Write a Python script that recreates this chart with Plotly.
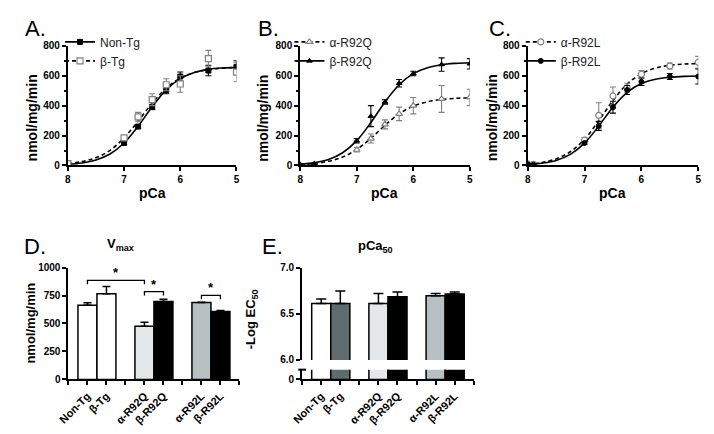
import plotly.graph_objects as go

W, H = 714, 434

# ---------------- data ----------------
# Panel A
pCa_A = [8, 7, 6.75, 6.5, 6.25, 6, 5.5, 5]
nontg_pts = [10, 150, 260, 390, 505, 595, 635, 660]
nontg_err = [3, 10, 12, 15, 25, 30, 35, 40]
btg_pts = [12, 185, 325, 440, 540, 545, 715, 625]
btg_err = [5, 15, 30, 40, 40, 55, 55, 65]

# Panel B
pCa_B = [8, 7.75, 7, 6.75, 6.5, 6.25, 6, 5.5, 5]
aR92Q_pts = [3, 8, 105, 180, 275, 345, 400, 445, 455]
aR92Q_err = [3, 3, 15, 30, 30, 45, 55, 90, 55]
bR92Q_pts = [5, 10, 165, 330, 425, 550, 615, 675, 680]
bR92Q_err = [3, 3, 15, 70, 15, 25, 15, 45, 35]

# Panel C
pCa_C = [8, 7.9, 7, 6.75, 6.5, 6.25, 6, 5.5, 5]
aR92L_pts = [10, 8, 170, 335, 465, 520, 610, 665, 690]
aR92L_err = [5, 5, 15, 85, 60, 30, 25, 20, 40]
bR92L_pts = [8, 5, 150, 265, 390, 505, 560, 595, 595]
bR92L_err = [5, 5, 10, 30, 40, 30, 25, 20, 50]

# fitted curves
fit_pCa = [8, 7.75, 7.5, 7.25, 7, 6.75, 6.5, 6.25, 6, 5.75, 5.5, 5.25, 5]
nontg_fit = [8, 17, 37, 77, 150, 262, 393, 506, 581, 622, 643, 652, 656]
btg_fit = [13, 26, 52, 101, 185, 296, 417, 517, 584, 622, 641, 651, 656]
aR92Q_fit = [6, 13, 28, 56, 107, 182, 269, 345, 397, 426, 441, 449, 452]
bR92Q_fit = [8, 19, 40, 85, 166, 287, 425, 540, 614, 654, 674, 683, 687]
aR92L_fit = [9, 20, 44, 92, 176, 299, 434, 545, 614, 651, 670, 678, 682]
bR92L_fit = [6, 15, 33, 74, 149, 264, 390, 489, 548, 577, 590, 596, 598]

# Panels D, E
bar_labels = ["Non-Tg", "β-Tg", "α-R92Q", "β-R92Q", "α-R92L", "β-R92L"]
vmax = [663, 765, 475, 697, 687, 607]
vmax_err = [22, 65, 37, 20, 3, 10]
pca50 = [6.61, 6.61, 6.61, 6.685, 6.695, 6.715]
pca50_err = [0.05, 0.135, 0.11, 0.05, 0.025, 0.02]
sig_pairs = [("Non-Tg", "α-R92Q"), ("α-R92Q", "β-R92Q"), ("α-R92L", "β-R92L")]

# ---------------- styling helpers ----------------
FONT = "Liberation Sans, Arial, sans-serif"
GRAY = "#808080"
DASH = "4px,3px"


def px(x):
    return x / W


def py(y):
    return 1 - y / H


def xd(a, b):
    return [px(a), px(b)]


def yd(top, bottom):
    return [py(bottom), py(top)]


fig = go.Figure()

axis_common = dict(showline=True, linecolor="black", linewidth=2, ticks="outside",
                   ticklen=4, tickwidth=2, tickcolor="black", showgrid=False, zeroline=False,
                   tickfont=dict(family=FONT, size=10, color="black", weight="bold"))


def marker_style(s):
    if s["open"]:
        return dict(symbol=s["symbol"], size=6, color="white", line=dict(color=GRAY, width=1.2))
    return dict(symbol=s["symbol"], size=5, color="black", line=dict(color="black", width=1))


def curve_panel(idx, pCa, series, legend_name):
    xa = "x" if idx == 1 else f"x{idx}"
    ya = "y" if idx == 1 else f"y{idx}"
    for s in series:
        dash = DASH if s["open"] else "solid"
        ecol = GRAY if s["open"] else "black"
        fig.add_trace(go.Scatter(x=fit_pCa, y=s["fit"], mode="lines",
                                 line=dict(color="black", width=1.6, dash=dash, shape="spline", smoothing=1.0),
                                 xaxis=xa, yaxis=ya, showlegend=False, hoverinfo="skip"))
        fig.add_trace(go.Scatter(x=pCa, y=s["pts"], mode="markers", marker=marker_style(s),
                                 error_y=dict(type="data", array=s["err"], color=ecol, thickness=1.1, width=3),
                                 xaxis=xa, yaxis=ya, showlegend=False))
        fig.add_trace(go.Scatter(x=[None], y=[None], mode="lines+markers", name=s["name"],
                                 line=dict(color="black", width=1.6, dash=dash), marker=marker_style(s),
                                 xaxis=xa, yaxis=ya, legend=legend_name))


curve_panel(1, pCa_A, [
    dict(name="Non-Tg", pts=nontg_pts, err=nontg_err, fit=nontg_fit, open=False, symbol="square"),
    dict(name="β-Tg", pts=btg_pts, err=btg_err, fit=btg_fit, open=True, symbol="square"),
], "legend")
curve_panel(2, pCa_B, [
    dict(name="α-R92Q", pts=aR92Q_pts, err=aR92Q_err, fit=aR92Q_fit, open=True, symbol="triangle-up"),
    dict(name="β-R92Q", pts=bR92Q_pts, err=bR92Q_err, fit=bR92Q_fit, open=False, symbol="triangle-up"),
], "legend2")
curve_panel(3, pCa_C, [
    dict(name="α-R92L", pts=aR92L_pts, err=aR92L_err, fit=aR92L_fit, open=True, symbol="circle"),
    dict(name="β-R92L", pts=bR92L_pts, err=bR92L_err, fit=bR92L_fit, open=False, symbol="circle"),
], "legend3")

panel_x = {1: (58, 230), 2: (295, 468), 3: (527, 701)}
for i, (a, b) in panel_x.items():
    sfx = "" if i == 1 else str(i)
    fig.layout["xaxis" + sfx] = dict(axis_common, domain=xd(a, b), range=[8, 5], tickvals=[8, 7, 6, 5],
                                     anchor="y" + sfx)
    fig.layout["yaxis" + sfx] = dict(axis_common, domain=yd(41, 164), range=[0, 800], tickvals=[0, 200, 400, 600, 800],
                                     anchor="x" + sfx,
                                     minor=dict(ticks="outside", ticklen=2, tickwidth=1.5, tickcolor="black", dtick=100))

# ---------------- bar panels ----------------
pos = [i + 1 + i // 2 for i in range(len(bar_labels))]
colD = ["white", "white", "#e4e8e8", "black", "#b7c1c4", "black"]
colE = ["white", "#5f6c6e", "#e4e8e8", "black", "#b7c1c4", "black"]

fig.add_trace(go.Bar(x=pos, y=vmax, width=1.0, marker=dict(color=colD, line=dict(color="black", width=1.5)),
                     error_y=dict(type="data", array=vmax_err, arrayminus=[0] * len(vmax), symmetric=False,
                                  color="black", thickness=1.5, width=4),
                     xaxis="x4", yaxis="y4", showlegend=False))
fig.add_trace(go.Bar(x=pos, y=pca50, width=1.0, marker=dict(color=colE, line=dict(color="black", width=1.5)),
                     error_y=dict(type="data", array=pca50_err, arrayminus=[0] * len(pca50), symmetric=False,
                                  color="black", thickness=1.5, width=5),
                     xaxis="x6", yaxis="y6", showlegend=False))
fig.add_trace(go.Bar(x=pos, y=pca50, width=1.0, marker=dict(color=colE, line=dict(color="black", width=1.5)),
                     xaxis="x5", yaxis="y5", showlegend=False))

bar_x_common = dict(axis_common, range=[0, max(pos) + 1], tickvals=pos, ticktext=bar_labels, tickangle=-45,
                    tickfont=dict(family=FONT, size=11, color="black", weight="bold"),
                    minor=dict(ticks="outside", ticklen=4, tickwidth=2, tickcolor="black", dtick=1, tick0=0))
fig.layout.xaxis4 = dict(bar_x_common, domain=xd(58.6, 233), anchor="y4")
fig.layout.yaxis4 = dict(axis_common, domain=yd(269, 384), range=[0, 1000], tickvals=[0, 250, 500, 750, 1000], anchor="x4")
fig.layout.xaxis5 = dict(bar_x_common, domain=xd(297, 472), anchor="y5")
fig.layout.yaxis5 = dict(axis_common, domain=yd(374, 384), range=[0, 1], tickvals=[0], anchor="x5")
fig.layout.xaxis6 = dict(domain=xd(297, 472), range=[0, max(pos) + 1], anchor="y6", visible=False)
fig.layout.yaxis6 = dict(axis_common, domain=yd(269, 364), range=[6.0, 7.0], tickvals=[6.0, 6.5, 7.0],
                         tickformat=".1f", anchor="x6")

# break mark on E axis
fig.add_shape(type="line", xref="paper", yref="paper", x0=px(293), x1=px(301), y0=py(374), y1=py(374),
              line=dict(color="black", width=2))

# significance brackets
br_y = [885, 785, 752]
drop = 35
for (a, b), yb in zip(sig_pairs, br_y):
    xa = pos[bar_labels.index(a)]
    xb = pos[bar_labels.index(b)]
    fig.add_shape(type="path", xref="x4", yref="y4",
                  path=f"M {xa},{yb - drop} L {xa},{yb} L {xb},{yb} L {xb},{yb - drop}",
                  line=dict(color="black", width=1.3))
    fig.add_annotation(x=(xa + xb) / 2, y=yb, xref="x4", yref="y4", text="<b>*</b>", showarrow=False,
                       yanchor="bottom", yshift=-2, font=dict(family=FONT, size=13, color="black"))


# ---------------- text annotations ----------------
def ann(x, y, text, size, angle=0, xanchor="center", yanchor="middle", bold=True):
    fig.add_annotation(x=px(x), y=py(y), xref="paper", yref="paper", text=text, showarrow=False,
                       textangle=angle, xanchor=xanchor, yanchor=yanchor,
                       font=dict(family=FONT, size=size, color="black", weight="bold" if bold else "normal"))


for lx, letter in [(12, "A."), (250, "B."), (486, "C.")]:
    ann(lx, 23, letter, 22, xanchor="left", bold=False)
ann(11, 247, "D.", 22, xanchor="left", bold=False)
ann(254, 247, "E.", 22, xanchor="left", bold=False)

for cx in [144, 381, 614]:
    ann(cx, 192, "pCa", 14)
for yx in [21, 257, 490]:
    ann(yx, 115, "nmol/mg/min", 14, angle=-90)
ann(20, 326, "nmol/mg/min", 13, angle=-90)
ann(245, 322, "-Log EC<sub>50</sub>", 13, angle=-90)
ann(112, 245, "V<sub>max</sub>", 13)
ann(372, 247, "pCa<sub>50</sub>", 13)

leg_common = dict(bgcolor="rgba(0,0,0,0)", font=dict(family=FONT, size=12, color="#222"), itemwidth=30,
                  xanchor="left", yanchor="top", tracegroupgap=0, itemclick=False)
fig.update_layout(
    width=W, height=H, margin=dict(l=0, r=0, t=0, b=0),
    paper_bgcolor="white", plot_bgcolor="white",
    barmode="overlay",
    legend=dict(leg_common, x=px(50), y=py(22)),
    legend2=dict(leg_common, x=px(284), y=py(22)),
    legend3=dict(leg_common, x=px(520), y=py(22)),
)

fig.write_html("out.html", config={"displayModeBar": False},
               post_script="document.body.style.margin='0';")
